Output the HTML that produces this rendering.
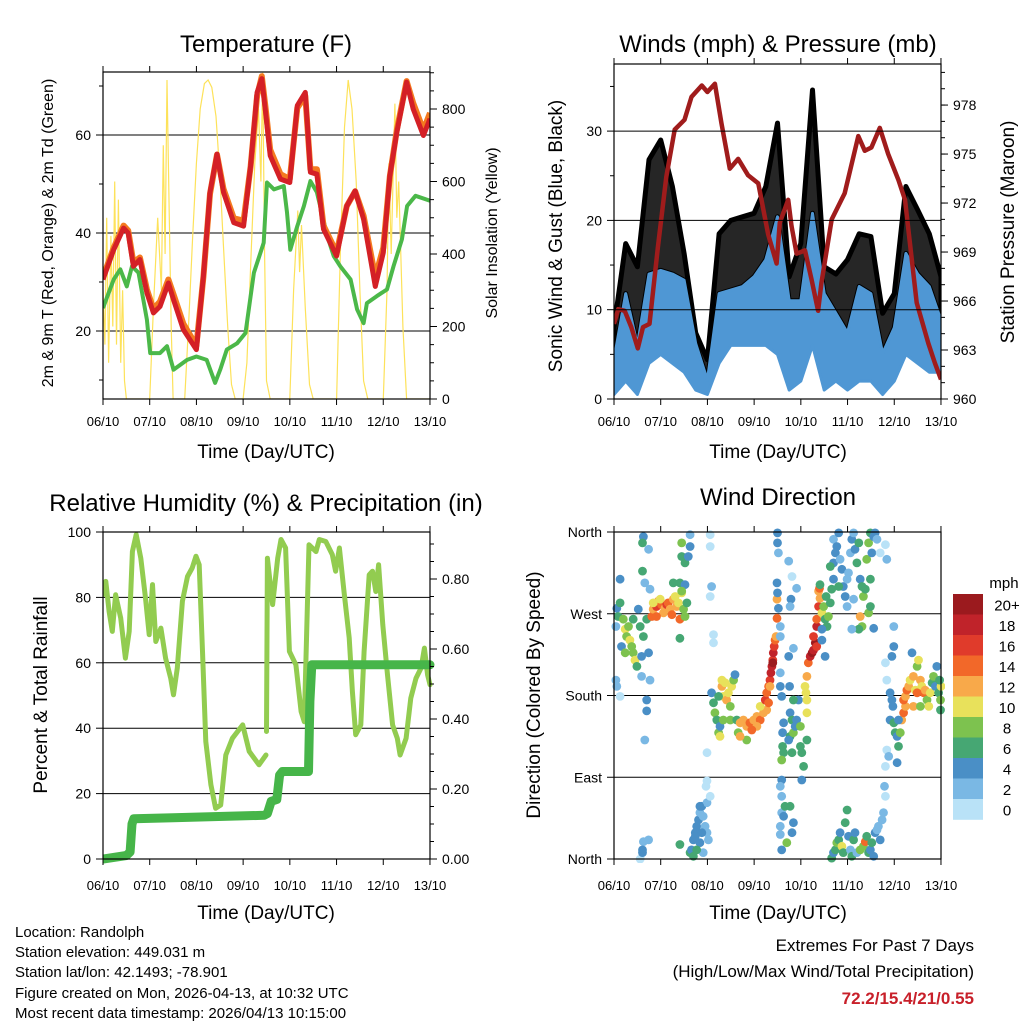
<!DOCTYPE html>
<html><head><meta charset="utf-8"><title>Station Meteogram</title>
<style>
html,body{margin:0;padding:0;background:#fff;}
svg{display:block;font-family:"Liberation Sans",Arial,sans-serif;}
</style></head>
<body>
<svg id="chart" xmlns="http://www.w3.org/2000/svg" width="1024" height="1024" viewBox="0 0 1024 1024">
<rect x="0" y="0" width="1024" height="1024" fill="#fff"/>
<g id="layer"></g>
<text x="266" y="52" font-size="24" text-anchor="middle">Temperature (F)</text>
<text x="778" y="52" font-size="24" text-anchor="middle">Winds (mph) &amp; Pressure (mb)</text>
<text x="266" y="511" font-size="24" text-anchor="middle">Relative Humidity (%) &amp; Precipitation (in)</text>
<text x="778" y="505" font-size="24" text-anchor="middle">Wind Direction</text>
<text transform="translate(53,233) rotate(-90)" font-size="16" text-anchor="middle">2m &amp; 9m T (Red, Orange) &amp; 2m Td (Green)</text>
<text transform="translate(497,233) rotate(-90)" font-size="16" text-anchor="middle">Solar Insolation (Yellow)</text>
<text transform="translate(562,236) rotate(-90)" font-size="19" text-anchor="middle">Sonic Wind &amp; Gust (Blue, Black)</text>
<text transform="translate(1014,232) rotate(-90)" font-size="19" text-anchor="middle">Station Pressure (Maroon)</text>
<text transform="translate(47,695) rotate(-90)" font-size="19" text-anchor="middle">Percent &amp; Total Rainfall</text>
<text transform="translate(540,695) rotate(-90)" font-size="19" text-anchor="middle">Direction (Colored By Speed)</text>
<text x="266" y="458" font-size="19" text-anchor="middle">Time (Day/UTC)</text>
<text x="778" y="458" font-size="19" text-anchor="middle">Time (Day/UTC)</text>
<text x="266" y="919" font-size="19" text-anchor="middle">Time (Day/UTC)</text>
<text x="778" y="919" font-size="19" text-anchor="middle">Time (Day/UTC)</text>
<g font-size="15">
<text x="15" y="937">Location: Randolph</text>
<text x="15" y="957">Station elevation: 449.031 m</text>
<text x="15" y="977">Station lat/lon: 42.1493; -78.901</text>
<text x="15" y="998">Figure created on Mon, 2026-04-13, at 10:32 UTC</text>
<text x="15" y="1018">Most recent data timestamp: 2026/04/13 10:15:00</text>
</g>
<g text-anchor="end">
<text x="974" y="951" font-size="17">Extremes For Past 7 Days</text>
<text x="974" y="977" font-size="17">(High/Low/Max Wind/Total Precipitation)</text>
<text x="974" y="1004" font-size="17" font-weight="bold" fill="#c8202a">72.2/15.4/21/0.55</text>
</g>
</svg>
<script>
const dayLabels=["06/10","07/10","08/10","09/10","10/10","11/10","12/10","13/10"];
const tempTicks=[20,40,60];
const solarTicks=[0,200,400,600,800];
const windTicks=[0,10,20,30];
const presTicks=[960,963,966,969,972,975,978];
const rhTicks=[0,20,40,60,80,100];
const precTicks=["0.00","0.20","0.40","0.60","0.80"];
const dirTicks=[0,90,180,270,360];
const dirLabels=["North","East","South","West","North"];
const speedBins=[0,2,4,6,8,10,12,14,16,18,20];
const speedBinLabels=["0","2","4","6","8","10","12","14","16","18","20+"];
const speedColors=["#b9e2f7","#7ab8e4","#4a8fc6","#46a773","#7dc24f","#e8e15b","#f8a94a","#f26829","#e03b2b","#c0232a","#9b1a1e"];

const tempTime=[0,0.23,0.44,0.54,0.65,0.79,0.94,1.08,1.22,1.4,1.51,1.72,2.0,2.15,2.29,2.44,2.58,2.8,3.01,3.16,3.3,3.4,3.48,3.58,3.8,4.0,4.16,4.33,4.44,4.58,4.72,5.0,5.22,5.4,5.58,5.83,6.0,6.14,6.29,6.5,6.64,6.86,7.0];
const temp2m=[30.5,36.6,41,40,33.2,34.6,27.8,23.7,25,29.8,26.4,20.3,16.2,31.2,48.3,56.1,48.3,42.1,41.4,53.7,68.7,71.5,64.6,55.8,51,50.3,66,68.7,52.4,52,40.8,35.3,45.5,48.6,42.8,29.1,36,51.7,60.5,70.8,65.3,59.9,63.3];
const temp9m=[31,37,41.5,40.5,34,35,28.5,24.5,26,30.5,27.5,21.5,17,31,48,56,49,43,42.5,53.5,68,72,65.5,57,52,51,65.5,68,53,53,41.5,36,45.5,48.5,43.5,31,37,51.5,61,71,66.5,61,64.5];
const dewTime=[0,0.23,0.37,0.51,0.62,0.76,0.94,1.01,1.22,1.37,1.51,1.8,2.0,2.22,2.4,2.51,2.65,2.87,3.05,3.23,3.44,3.51,3.66,3.87,3.94,4.01,4.16,4.3,4.44,4.58,4.8,4.94,5.08,5.3,5.44,5.58,5.65,5.86,6.08,6.22,6.4,6.51,6.69,7.0];
const dewPoint=[24.7,30.5,32.6,29.1,33.2,31.9,22.3,15.5,15.5,16.9,12.1,14.1,14.8,14.1,9.4,12.1,16.2,17.5,19.6,31.9,38,50.3,48.9,49.6,44.2,36.6,41.4,45.5,50.6,48.3,39.4,35.3,33.2,30.5,24.4,21.6,25.7,27.1,28.5,33.2,38.7,45.5,47.6,46.6];
const solarTime=[0,0.04,0.08,0.12,0.17,0.21,0.25,0.29,0.33,0.38,0.42,0.46,0.5,0.58,1.0,1.08,1.17,1.25,1.29,1.33,1.37,1.42,1.46,1.5,1.75,1.83,1.92,2.0,2.08,2.17,2.25,2.33,2.42,2.5,2.58,2.67,2.75,2.83,3.0,3.08,3.17,3.25,3.33,3.38,3.42,3.46,3.5,3.58,4.0,4.08,4.17,4.21,4.25,4.33,4.42,4.5,5.0,5.08,5.17,5.25,5.33,5.42,5.5,5.58,5.67,6.0,6.08,6.12,6.17,6.25,6.29,6.33,6.42,6.5,7.0];
const solar=[300,150,500,100,450,200,600,150,550,100,300,50,0,0,0,250,500,300,700,400,880,500,200,0,0,200,450,650,800,870,880,860,780,620,420,200,40,0,0,100,400,650,800,600,900,400,50,0,0,300,520,350,480,250,40,0,0,400,750,880,800,600,300,50,0,0,300,650,400,815,500,600,200,0,0];

const windTime=[0,0.25,0.5,0.75,1,1.25,1.5,1.75,2,2.25,2.5,2.75,3,3.25,3.5,3.75,4,4.25,4.5,4.75,5,5.25,5.5,5.75,6,6.25,6.5,6.75,7];
const windMax=[4.4,11.8,6,14,14.4,14,13.3,6.2,2.1,11.8,12.2,12.6,13.7,15.6,20.4,11,11,20.8,11.8,9.6,7.4,12.6,11.8,5.1,8,16.3,14,12.6,8.8];
const windMin=[0.5,2,0.5,4,5,4,3,1,0.5,4,6,6,6,6,5,1,2,6,1,2,1,2,2,0.5,2,5,4,3,3];
const gustMax=[8,17.4,14.8,26.8,29,23.8,16.3,7.4,4.4,18.5,20,20.4,20.8,23.8,30.9,13.7,17.4,34.6,14.8,14,15.6,18.5,18.2,9.6,11.8,23.8,21.2,18.5,13.7];
const presTime=[0,0.09,0.23,0.37,0.51,0.62,0.76,0.94,1.12,1.3,1.51,1.66,1.88,2.0,2.16,2.3,2.48,2.66,2.87,3.09,3.3,3.48,3.55,3.73,3.8,3.91,4.09,4.23,4.37,4.44,4.66,4.94,5.23,5.37,5.51,5.69,5.87,6.09,6.23,6.48,6.73,6.87,7.0];
const pressure=[964.6,965.5,965.4,964.4,963.1,964.4,964.6,969.3,973.6,976.5,977.1,978.5,979.2,978.8,979.3,976.9,974.1,974.7,973.7,973.2,970.1,968.3,970.8,972.2,970.6,968.9,969.1,967.3,965.4,967.1,971,972.6,976.1,975.2,975.4,976.6,975,973.4,972.2,965.9,963.4,962.2,961.2];

const rhTime=[0,0.06,0.13,0.2,0.27,0.38,0.48,0.56,0.63,0.71,0.81,0.91,0.99,1.06,1.13,1.24,1.34,1.45,1.51,1.59,1.7,1.81,1.91,1.99,2.06,2.13,2.2,2.31,2.41,2.52,2.63,2.77,2.99,3.13,3.34,3.49,
 3.495,3.5,3.52,3.63,3.74,3.81,3.91,3.99,4.13,4.24,4.31,4.41,4.56,4.63,4.77,4.91,4.98,5.06,5.16,5.27,5.34,5.41,5.52,5.59,5.7,5.77,5.84,5.9,5.99,6.09,6.2,6.3,6.36,6.49,6.59,6.7,6.81,6.88,6.95,7.0];
const relHum=[80.8,84.9,75.7,69.6,80.8,73.7,61.4,69.6,94,99.2,92,79.8,68.6,83.9,66.5,70.6,61.4,55.3,50.2,58.4,78.8,86.4,89,92.6,90,63.5,35.9,22.7,15.5,16.5,31.8,36.9,41,32.9,28.8,31.8,
 null,39,92,77.8,92,97.7,95.1,63.5,59.4,45.1,42,96.1,94,97.7,97.1,93.1,88,95.1,81.8,67.6,51.2,38,41,63.5,86.9,88,81.8,90,71.6,56.3,41,36.9,31.8,36.9,49.2,55.3,58.4,64.5,56.3,53.3];
const precTime=[0,0.5,0.58,0.62,0.66,1.5,3.45,3.52,3.6,3.72,3.78,3.84,4.4,4.43,4.47,7];
const precip=[0,0.01,0.02,0.1,0.115,0.118,0.125,0.13,0.165,0.17,0.24,0.25,0.25,0.45,0.555,0.555];

const wdTime=[
0.06,0.09,0.04,0.13,0.2,0.24,0.27,0.31,0.34,0.38,0.41,0.45,0.49,0.16,0.24,0.41,0.56,0.59,0.52,0.63,0.74,0.7,
0.13,0.61,0.63,0.61,0.74,0.66,0.77,0.04,0.06,0.59,0.7,0.7,0.66,0.77,0.63,0.56,0.74,0.61,0.13,0.61,
0.81,0.84,0.91,0.95,1.02,1.09,1.13,1.16,1.2,1.24,1.27,1.31,1.34,1.38,1.41,1.45,1.49,1.52,1.56,1.41,1.27,1.52,1.45,1.06,0.99,0.84,0.91,1.41,
1.45,1.45,1.52,1.59,1.63,1.63,2.06,2.06,2.06,2.09,2.13,2.13,
1.63,1.66,1.7,1.74,1.77,1.81,1.84,1.88,1.91,1.95,1.99,2.02,1.84,1.91,1.77,1.7,1.88,1.99,1.97,1.99,2.06,1.41,1.99,1.84,1.74,
2.09,2.13,2.16,2.2,2.24,2.27,2.31,2.34,2.38,2.41,2.45,2.49,2.52,2.56,2.59,2.34,2.27,2.31,2.49,2.24,2.63,2.66,2.7,2.77,2.84,2.91,2.99,3.06,3.13,3.2,3.27,2.84,2.7,3.06,2.95,3.13,
3.24,3.27,3.31,3.34,3.36,3.38,3.4,3.41,3.43,3.45,3.4,3.34,3.31,3.47,3.49,3.49,
3.5,3.5,3.52,3.49,3.5,3.52,3.56,3.56,3.56,3.56,3.59,3.63,3.61,3.61,3.63,3.59,3.59,3.56,3.59,3.59,3.63,3.56,3.56,3.59,3.66,3.74,3.81,3.79,3.77,3.84,3.74,3.76,3.77,3.81,3.77,3.74,3.81,3.84,3.91,3.95,
3.84,3.88,3.99,3.99,4.02,4.06,4.02,4.13,3.84,3.81,3.77,3.7,3.91,
4.09,4.11,4.13,4.13,4.13,4.16,4.2,4.24,4.27,4.31,4.34,4.27,4.34,4.38,4.38,4.4,4.41,4.34,
4.45,4.49,4.52,4.56,4.59,4.63,4.66,4.7,4.7,4.74,4.7,4.77,4.81,4.84,4.88,4.91,4.95,4.99,5.02,5.06,5.09,5.13,5.16,5.2,5.24,5.27,5.31,5.34,5.38,5.41,5.45,5.49,5.52,5.56,5.59,5.63,5.49,5.45,5.49,5.27,5.31,5.24,4.63,4.81,4.99,5.13,5.09,5.56,5.7,5.81,5.84,4.54,4.45,4.45,4.52,4.41,
4.66,4.7,4.74,4.77,4.81,4.84,4.88,4.91,4.95,4.99,5.02,5.06,5.09,5.13,5.16,5.2,5.27,5.34,5.38,5.41,5.45,5.49,5.52,5.56,5.59,5.63,5.66,5.7,5.74,5.77,5.81,5.79,5.81,5.84,5.88,
5.81,5.84,5.91,5.95,5.97,5.91,5.99,6.02,6.06,6.09,6.06,6.13,6.16,6.2,6.24,6.2,5.99,5.95,5.99,6.09,
6.24,6.27,6.31,6.34,6.38,6.41,6.45,6.49,6.52,6.56,6.59,6.63,6.66,6.7,6.74,6.77,6.81,6.84,6.88,6.91,6.95,6.99,6.99,7.0,6.97,6.41,6.56,6.49];
const wdDir=[
276,267,256,282,264,253,245,256,241,234,227,219,212,234,227,264,256,223,275,245,227,264,
308,317,355,348,341,304,297,197,190,201,175,163,131,197,19,0,21,10,179,7,
267,275,278,284,280,276,280,282,275,269,286,289,278,282,264,293,275,267,282,304,304,302,295,271,286,282,267,243,
348,333,326,333,357,344,357,344,289,300,247,238,
7,10,21,29,36,43,51,58,47,36,29,21,18,7,10,3,29,62,80,86,69,16,117,58,25,
183,172,161,153,139,146,190,179,194,175,183,168,190,197,203,153,135,197,153,179,153,139,150,153,146,150,153,157,153,161,164,131,135,146,142,168,
175,183,190,197,205,212,219,227,234,241,216,190,172,245,265,286,
359,348,337,304,293,276,256,245,205,190,179,150,139,124,117,109,87,80,69,51,47,36,27,10,58,328,311,286,278,232,223,190,161,153,135,131,117,139,153,175,
175,146,146,124,117,102,87,131,40,29,58,18,298,
190,183,175,161,201,216,223,227,230,238,234,245,256,278,295,298,287,264,
271,278,264,256,267,282,297,308,326,337,352,344,359,330,319,300,289,278,315,337,352,359,341,326,348,308,300,289,297,330,348,359,337,355,359,352,308,271,278,267,256,253,322,300,308,286,253,254,337,346,330,289,253,241,223,302,
1,7,10,18,21,29,14,7,40,54,25,10,3,21,29,7,10,14,19,25,7,10,18,3,29,32,36,21,43,51,69,80,102,120,113,
216,197,183,175,168,153,150,139,135,124,106,139,153,161,168,175,234,223,256,153,
179,186,190,197,227,201,186,212,219,197,190,183,186,175,168,183,194,201,190,212,183,175,164,190,197,168,168,183];
const wdSpeed=[
4,6,2,6,8,10,8,8,10,8,8,10,6,4,8,6,6,4,4,6,4,6,
4,6,4,6,2,2,2,2,2,2,4,4,2,2,2,0,2,4,0,4,
14,12,16,12,14,12,16,14,12,14,12,10,12,10,14,10,8,8,6,6,6,4,8,12,10,10,14,6,
8,6,6,4,2,4,0,0,0,2,0,0,
6,4,4,4,4,4,2,4,2,2,2,2,4,2,6,6,4,2,0,0,0,6,0,4,4,
4,6,8,6,8,4,12,10,10,12,10,8,10,8,4,8,10,10,8,6,6,8,12,12,12,14,12,12,14,12,12,8,12,12,14,10,
16,14,14,16,18,18,16,18,16,14,20,12,14,12,14,12,
4,4,2,4,4,4,2,2,2,4,4,4,4,6,6,8,4,2,2,2,4,2,2,4,6,2,0,4,2,2,4,4,4,6,6,4,6,8,4,4,
6,4,8,6,6,6,4,6,4,4,6,8,2,
10,10,10,10,12,14,18,20,18,20,16,16,18,16,12,14,12,14,
10,8,6,6,8,6,6,4,4,4,2,4,4,2,4,4,4,2,2,2,4,2,4,6,6,4,6,8,6,8,8,6,4,4,4,2,6,8,6,12,8,6,6,6,2,2,2,4,0,0,2,6,4,4,4,6,
6,4,6,8,6,4,10,6,6,6,4,2,6,6,4,2,8,8,14,6,6,4,6,4,4,2,2,4,2,2,0,2,0,0,2,
0,0,4,4,4,4,6,6,4,6,4,8,12,14,12,14,4,4,2,4,
12,14,12,10,4,12,10,8,10,12,10,14,12,8,10,10,6,8,4,4,6,8,6,10,6,12,8,14];

const NS="http://www.w3.org/2000/svg";
const layer=document.getElementById('layer');
function mk(tag,attrs,parent){const e=document.createElementNS(NS,tag);for(const k in attrs)e.setAttribute(k,attrs[k]);(parent||layer).appendChild(e);return e;}
function pathFrom(xs,ys,fx,fy){let d="",pen=false;for(let i=0;i<xs.length;i++){if(ys[i]===null||ys[i]===undefined){pen=false;continue;}d+=(pen?"L":"M")+fx(xs[i]).toFixed(1)+","+fy(ys[i]).toFixed(1);pen=true;}return d;}
function bandPath(xs,lo,hi,fx,fy){let d="";for(let i=0;i<xs.length;i++)d+=(i?"L":"M")+fx(xs[i]).toFixed(1)+","+fy(hi[i]).toFixed(1);for(let i=xs.length-1;i>=0;i--)d+="L"+fx(xs[i]).toFixed(1)+","+fy(lo[i]).toFixed(1);return d+"Z";}
function clip(id,x,y,w,h){const defs=mk('defs',{});const c=mk('clipPath',{id:id},defs);mk('rect',{x:x,y:y,width:w,height:h},c);}

const DAY=46.71;
const P={
 temp:{l:103,t:72,r:430,b:399},
 wind:{l:614,t:64,r:941,b:399},
 rh:{l:103,t:532,r:430,b:859},
 dir:{l:614,t:532,r:941,b:859}};

function xAxis(p,name,labelY){
  const g=mk('g',{});
  
  
  dayLabels.forEach((lab,i)=>{
    const x=p.l+i*DAY;
    mk('line',{x1:x,y1:p.b,x2:x,y2:p.b+6,stroke:'#000','stroke-width':1},g);
    mk('line',{x1:x,y1:p.t,x2:x,y2:p.t-6,stroke:'#000','stroke-width':1},g);
    const t=mk('text',{x:x,y:labelY,'font-size':13,'text-anchor':'middle'},g);
    
    
    t.textContent=lab;
  });
}
function frame(p,name){
  const r=mk('rect',{x:p.l,y:p.t,width:p.r-p.l,height:p.b-p.t,fill:'none',stroke:'#000','stroke-width':1.2});
  
  
}
function yTicks(p,vals,labels,fy,side,name,minorVals){
  const g=mk('g',{});
  
  
  (minorVals||[]).forEach(v=>{const y=fy(v);if(y<p.t-0.5||y>p.b+0.5)return;
    if(side==='left')mk('line',{x1:p.l,y1:y,x2:p.l-4,y2:y,stroke:'#000'},g);
    else mk('line',{x1:p.r,y1:y,x2:p.r+4,y2:y,stroke:'#000'},g);});
  vals.forEach((v,i)=>{const y=fy(v);
    let t;
    if(side==='left'){mk('line',{x1:p.l,y1:y,x2:p.l-7,y2:y,stroke:'#000'},g);
      t=mk('text',{x:p.l-12,y:y+5,'font-size':14,'text-anchor':'end'},g);}
    else{mk('line',{x1:p.r,y1:y,x2:p.r+7,y2:y,stroke:'#000'},g);
      t=mk('text',{x:p.r+12,y:y+5,'font-size':14,'text-anchor':'start'},g);}
    
    
    t.textContent=labels?labels[i]:String(v);});
}
function grid(p,vals,fy,name){
  vals.forEach(v=>{const y=fy(v);const l=mk('line',{x1:p.l,y1:y,x2:p.r,y2:y,stroke:'#000','stroke-width':1});
    
    });
}
function range(a,b,s){const o=[];for(let v=a;v<=b+1e-9;v+=s)o.push(+v.toFixed(3));return o;}

(function(){
 const p=P.temp; clip('cTemp',p.l,p.t,p.r-p.l,p.b-p.t);
 const fx=d=>p.l+d*DAY, fy=v=>429-v*4.9, fs=v=>399-v*0.3625;
 grid(p,tempTicks,fy,'temperature-gridline');
 const g=mk('g',{'clip-path':'url(#cTemp)'});
 
 
 let e=mk('path',{d:pathFrom(solarTime,solar,fx,fs),fill:'none',stroke:'#fde25a','stroke-width':1.2},g);
 
 
 e=mk('path',{d:pathFrom(dewTime,dewPoint,fx,fy),fill:'none',stroke:'#4bb849','stroke-width':4,'stroke-linejoin':'round'},g);
 
 
 e=mk('path',{d:pathFrom(tempTime,temp9m,fx,fy),fill:'none',stroke:'#f47a20','stroke-width':6,'stroke-linejoin':'round'},g);
 
 
 e=mk('path',{d:pathFrom(tempTime,temp2m,fx,fy),fill:'none',stroke:'#d42026','stroke-width':5,'stroke-linejoin':'round'},g);
 
 
 frame(p,'temperature');
 yTicks(p,tempTicks,null,fy,'left','temperature-y-axis',range(10,70,10));
 yTicks(p,solarTicks,null,fs,'right','solar-y-axis',range(0,900,50));
 xAxis(p,'temperature',426);
})();

(function(){
 const p=P.wind; clip('cWind',p.l,p.t,p.r-p.l,p.b-p.t);
 const fx=d=>p.l+d*DAY, fy=v=>399-v*8.93, fp=v=>399-(v-960)*16.33;
 const g=mk('g',{'clip-path':'url(#cWind)'});
 
 
 let e=mk('path',{d:bandPath(windTime,windMax,gustMax,fx,fy),fill:'#000','fill-opacity':0.85,stroke:'#000','stroke-width':5,'stroke-linejoin':'round'},g);
 
 
 e=mk('path',{d:bandPath(windTime,windMin,windMax,fx,fy),fill:'#4f97d4',stroke:'#4f97d4','stroke-width':3,'stroke-linejoin':'round'},g);
 
 
 grid(p,[10,20,30],fy,'wind-gridline');
 e=mk('path',{d:pathFrom(presTime,pressure,fx,fp),fill:'none',stroke:'#a01c1c','stroke-width':4.5,'stroke-linejoin':'round'},g);
 
 
 frame(p,'winds');
 yTicks(p,windTicks,null,fy,'left','wind-y-axis',range(5,35,10));
 yTicks(p,presTicks,null,fp,'right','pressure-y-axis',range(960,980,1));
 xAxis(p,'winds',426);
})();

(function(){
 const p=P.rh; clip('cRh',p.l,p.t-6,p.r-p.l+8,p.b-p.t+12);
 const fx=d=>p.l+d*DAY, fy=v=>859-v*3.27, fpr=v=>859-v*350;
 grid(p,[20,40,60,80],fy,'humidity-gridline');
 const g=mk('g',{'clip-path':'url(#cRh)'});
 
 
 let e=mk('path',{d:pathFrom(rhTime,relHum,fx,fy),fill:'none',stroke:'#92cc50','stroke-width':5,'stroke-linejoin':'round','stroke-linecap':'round'},g);
 
 
 e=mk('path',{d:pathFrom(precTime,precip,fx,fpr),fill:'none',stroke:'#46b549','stroke-width':9,'stroke-linejoin':'round','stroke-linecap':'round'},g);
 
 
 frame(p,'humidity');
 yTicks(p,rhTicks,null,fy,'left','humidity-y-axis',[]);
 yTicks(p,precTicks.map(Number),precTicks,fpr,'right','precipitation-y-axis',range(0,0.9,0.05));
 xAxis(p,'humidity',890);
})();

(function(){
 const p=P.dir; clip('cDir',p.l-4,p.t-4,p.r-p.l+8,p.b-p.t+8);
 const fx=d=>p.l+d*DAY, fy=v=>859-v*0.9083;
 grid(p,[90,180,270],fy,'direction-gridline');
 const g=mk('g',{'clip-path':'url(#cDir)'});
 
 
 function col(s){let k=0;for(let i=0;i<speedBins.length;i++)if(s>=speedBins[i])k=i;return speedColors[k];}
 for(let i=0;i<wdTime.length;i++){
   const c=mk('circle',{cx:fx(wdTime[i]).toFixed(1),cy:fy(wdDir[i]).toFixed(1),r:4.4,fill:col(wdSpeed[i])},g);
   
   
 }
 frame(p,'direction');
 yTicks(p,dirTicks,dirLabels,fy,'left','direction-y-axis',[]);
 xAxis(p,'direction',890);
 const cb=mk('g',{});
 
 
 const bh=20.5, top=594;
 const n=speedColors.length;
 for(let i=0;i<n;i++){
   const k=n-1-i;
   const r=mk('rect',{x:953,y:top+i*bh,width:30,height:bh+0.3,fill:speedColors[k]},cb);
   
   
   const t=mk('text',{x:1007,y:top+i*bh+bh/2+6,'font-size':15,'text-anchor':'middle'},cb);
   
   
   t.textContent=speedBinLabels[k];
 }
 const u=mk('text',{x:1004,y:588,'font-size':15,'text-anchor':'middle'},cb);
 
 
 u.textContent='mph';
})();
</script>
</body></html>
